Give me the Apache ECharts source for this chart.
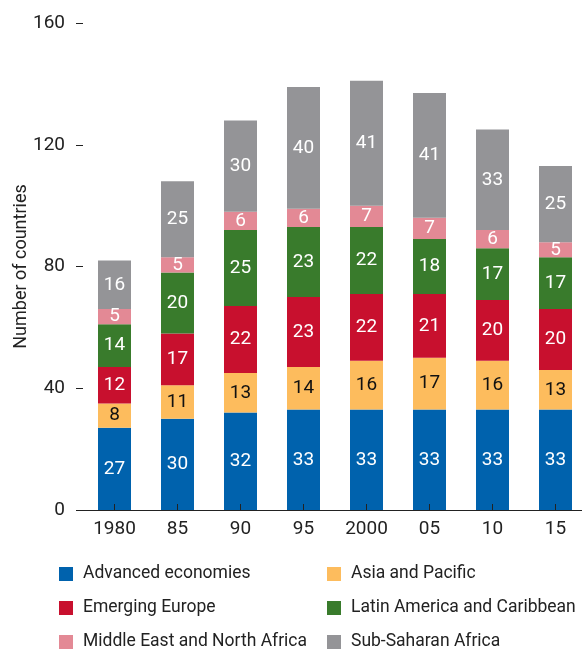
<!DOCTYPE html>
<html>
<head>
<meta charset="utf-8">
<script src="https://cdn.jsdelivr.net/npm/echarts@6/dist/echarts.min.js"></script>
<style>
  html, body { margin: 0; padding: 0; background: #fff; }
  #main { width: 582px; height: 652px; }
</style>
</head>
<body>
<div id="main"></div>
<script>
var years = ['1980', '85', '90', '95', '2000', '05', '10', '15'];

var advanced = [27, 30, 32, 33, 33, 33, 33, 33];
var asiaPacific = [8, 11, 13, 14, 16, 17, 16, 13];
var emergingEurope = [12, 17, 22, 23, 22, 21, 20, 20];
var latinAmerica = [14, 20, 25, 23, 22, 18, 17, 17];
var mena = [5, 5, 6, 6, 7, 7, 6, 5];
var subSaharan = [16, 25, 30, 40, 41, 41, 33, 25];

var yTicks = [0, 40, 80, 120, 160];

var font = 'Roboto, "Liberation Sans", sans-serif';

function makeSeries(name, data, color, labelColor) {
    return {
        name: name,
        type: 'bar',
        stack: 'total',
        data: data,
        barWidth: 33,
        itemStyle: { color: color },
        label: {
            show: true,
            position: 'inside',
            color: labelColor,
            fontFamily: font,
            fontSize: 19
        },
        emphasis: { disabled: true }
    };
}

window.addEventListener('load', function () {
    var chart = echarts.init(document.getElementById('main'));

    var legendBase = {
        orient: 'vertical',
        top: 559,
        height: 100,
        icon: 'rect',
        itemWidth: 14,
        itemHeight: 14,
        itemGap: 14,
        textStyle: { fontFamily: font, fontSize: 17.5, color: '#222', lineHeight: 20, padding: [0, 0, 0, 5] },
        selectedMode: false
    };

    var option = {
        backgroundColor: '#fff',
        animation: false,
        grid: { left: 83, top: 23, width: 504, height: 487, outerBoundsMode: 'none', containLabel: false },
        legend: [
            Object.assign({}, legendBase, { left: 54, data: ['Advanced economies', 'Emerging Europe', 'Middle East and North Africa'] }),
            Object.assign({}, legendBase, { left: 322, data: ['Asia and Pacific', 'Latin America and Caribbean', 'Sub-Saharan Africa'] })
        ],
        xAxis: {
            type: 'category',
            data: years,
            z: 5,
            axisLine: { show: true, lineStyle: { color: '#222', width: 1 } },
            axisTick: { show: true, inside: true, alignWithLabel: true, length: 6, lineStyle: { color: '#222' } },
            axisLabel: { fontFamily: font, fontSize: 19, color: '#222', margin: 10 }
        },
        yAxis: {
            type: 'value',
            min: yTicks[0],
            max: yTicks[yTicks.length - 1],
            interval: 40,
            name: 'Number of countries',
            nameLocation: 'middle',
            nameGap: 53,
            nameMoveOverlap: false,
            nameTextStyle: { fontFamily: font, fontSize: 18, color: '#222' },
            axisLine: { show: false },
            axisTick: { show: true, length: 7, lineStyle: { color: '#222' } },
            splitLine: { show: false },
            axisLabel: { fontFamily: font, fontSize: 19, color: '#222', margin: 18 }
        },
        series: [
            makeSeries('Advanced economies', advanced, '#0062ad', '#fff'),
            makeSeries('Asia and Pacific', asiaPacific, '#fdbc5d', '#111'),
            makeSeries('Emerging Europe', emergingEurope, '#c8102e', '#fff'),
            makeSeries('Latin America and Caribbean', latinAmerica, '#397b2c', '#fff'),
            makeSeries('Middle East and North Africa', mena, '#e38995', '#fff'),
            makeSeries('Sub-Saharan Africa', subSaharan, '#949497', '#fff')
        ]
    };

    chart.setOption(option);
});
</script>
</body>
</html>
